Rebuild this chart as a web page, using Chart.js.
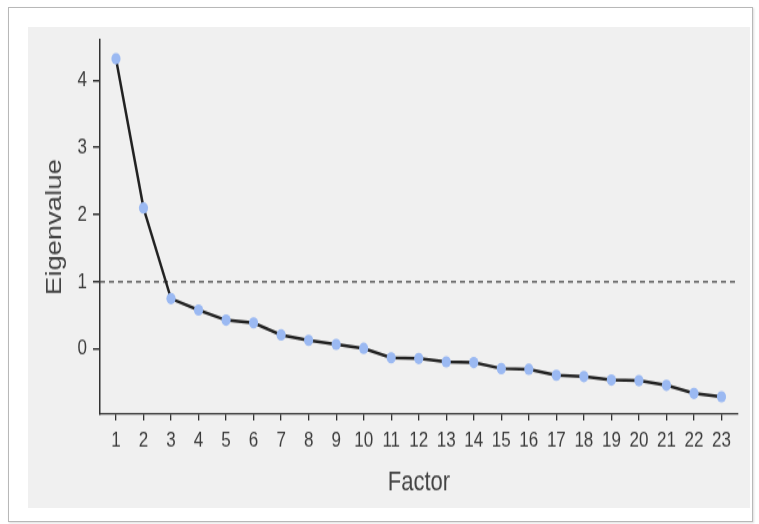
<!DOCTYPE html>
<html>
<head>
<meta charset="utf-8">
<script src="https://cdn.jsdelivr.net/npm/chart.js@4.4.1/dist/chart.umd.min.js"></script>
<style>
  html, body { margin: 0; padding: 0; background: #fff; }
  body { width: 759px; height: 524px; position: relative; overflow: hidden; }
  #frame { position: absolute; left: 8px; top: 7px; width: 743px; height: 513px;
           border: 1px solid #b8b8b8; background: #fff; box-shadow: 1px 1px 2px #ddd; }
  #panel { position: absolute; left: 28px; top: 27px; width: 722px; height: 481px; background: #f0f0f0; }
  #wrap { position: absolute; left: 0; top: 0; width: 759px; height: 420px;
          transform: scaleY(1.2476); transform-origin: 0 0; }
</style>
</head>
<body>
<div id="frame"></div>
<div id="panel"></div>
<div id="wrap"><canvas id="chart-display" width="759" height="420"></canvas></div>
<script>
// scree plot values
var factors = [1, 2, 3, 4, 5, 6, 7, 8, 9, 10, 11, 12, 13, 14, 15, 16, 17, 18, 19, 20, 21, 22, 23];
var eigenvalues = [4.32, 2.10, 0.75, 0.58, 0.43, 0.39, 0.21, 0.13, 0.07, 0.01, -0.13, -0.14,
                   -0.19, -0.20, -0.29, -0.30, -0.39, -0.41, -0.46, -0.47, -0.54, -0.66, -0.71];
var yTicks = [0, 1, 2, 3, 4];
var refLine = 1;
var xMin = 0.42, xMax = 23.6;
var yMin = -0.97, yMax = 4.6;

var ctx = document.getElementById('chart-display');

var points = factors.map(function(f, i) {
    return { x: f, y: eigenvalues[i] };
});

new Chart(ctx, {
    type: 'scatter',
    data: {
        datasets: [{
            label: 'Eigenvalue',
            data: points,
            showLine: true,
            borderColor: '#222',
            borderWidth: 2.5,
            pointRadius: 4.6,
            pointBackgroundColor: '#9bb9f2',
            pointBorderColor: '#9bb9f2',
            pointBorderWidth: 0,
            order: 1
        }, {
            label: 'ref',
            data: [{ x: xMin, y: refLine }, { x: xMax, y: refLine }],
            showLine: true,
            borderColor: '#444',
            borderWidth: 1.3,
            borderDash: [5, 4],
            pointRadius: 0,
            order: 2
        }]
    },
    options: {
        responsive: false,
        animation: false,
        devicePixelRatio: 1,
        layout: { padding: { left: 0, top: 32, right: 21, bottom: 0 } },
        plugins: { legend: { display: false }, tooltip: { enabled: false } },
        scales: {
            x: {
                type: 'linear',
                min: xMin,
                max: xMax,
                afterBuildTicks: function(axis) {
                    axis.ticks = factors.map(function(v) { return { value: v }; });
                },
                afterFit: function(axis) { axis.height = 88; },
                grid: { drawOnChartArea: false, drawTicks: true, tickLength: 5, color: '#333', lineWidth: 1.3 },
                border: { display: true, color: '#333', width: 1.3 },
                ticks: { color: '#3c3c3c', padding: 6, autoSkip: false, maxRotation: 0,
                         font: { family: 'Arial, "Liberation Sans", sans-serif', size: 17 } },
                title: { display: true, text: 'Factor', color: '#444', padding: { top: 0, bottom: 20 },
                         font: { family: 'Arial, "Liberation Sans", sans-serif', size: 22 } }
            },
            y: {
                min: yMin,
                max: yMax,
                afterBuildTicks: function(axis) {
                    axis.ticks = yTicks.map(function(v) { return { value: v }; });
                },
                afterFit: function(axis) { axis.width = 100; },
                grid: { drawOnChartArea: false, drawTicks: true, tickLength: 7, color: '#333', lineWidth: 1.5 },
                border: { display: true, color: '#333', width: 1.5 },
                ticks: { color: '#3c3c3c', padding: 6,
                         font: { family: 'Arial, "Liberation Sans", sans-serif', size: 17 } },
                title: { display: true, text: 'Eigenvalue', color: '#444', padding: { top: 42, bottom: 0 },
                         font: { family: 'Arial, "Liberation Sans", sans-serif', size: 22 } }
            }
        }
    }
});
</script>
</body>
</html>
